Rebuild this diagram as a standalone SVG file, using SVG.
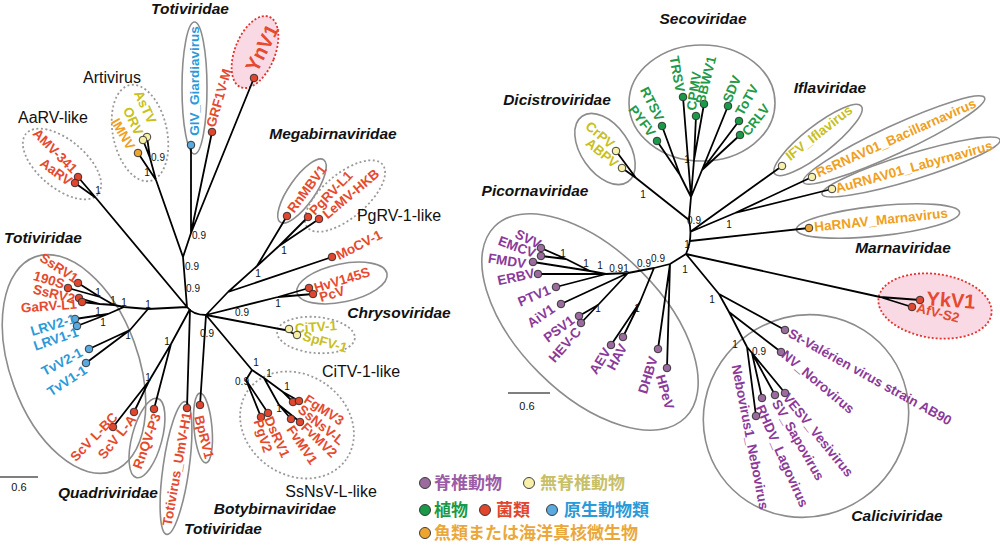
<svg xmlns="http://www.w3.org/2000/svg" width="1000" height="553" viewBox="0 0 1000 553">
<style>
.bg{fill:#fff}
.cs{fill:none;stroke:#8c8c8c;stroke-width:1.6}
.cd{fill:none;stroke:#9a9a9a;stroke-width:1.8;stroke-dasharray:2 2.5}
.pk{fill:#f9d9e4;stroke:#e5322d;stroke-width:1.8;stroke-dasharray:2 2}
.ln{fill:none;stroke:#000;stroke-width:1.8;stroke-linejoin:round}
.sb{stroke:#000;stroke-width:1.2}
circle{stroke:#2a2a2a;stroke-width:0.9}
.dotR{fill:#e0452e}.dotB{fill:#5aaae0}.dotY{fill:#f7efaa}.dotO{fill:#eea530}.dotG{fill:#1a9a48}.dotP{fill:#9a6b9c}
text{font-family:"Liberation Sans",Arial,sans-serif}
.lf{font-size:13.5px;font-weight:bold;text-anchor:middle;dominant-baseline:central}
.txR{fill:#e64a2e}.txB{fill:#2b9ad9}.txY{fill:#c8c020}.txO{fill:#f0a020}.txG{fill:#1e9a4a}.txP{fill:#8b3a99}
.fam{font-size:15.5px;font-weight:bold;font-style:italic;text-anchor:middle;dominant-baseline:central;fill:#111}
.grp{font-size:16px;text-anchor:middle;dominant-baseline:central;fill:#111}
.bsv{font-size:10px;text-anchor:middle;dominant-baseline:central;fill:#111}
.sc{font-size:11px;text-anchor:middle;fill:#111}
.lg{font-family:"Noto Sans CJK JP","Noto Sans CJK SC",sans-serif;font-size:17px;font-weight:bold}
</style>
<rect class="bg" x="0" y="0" width="1000" height="553"/>

<g id="clades">
<ellipse class="cs" cx="194.5" cy="88" rx="12.5" ry="66"/>
<ellipse class="pk" cx="255" cy="52" rx="20" ry="38" transform="rotate(22 255 52)"/>
<ellipse class="cd" cx="140" cy="133" rx="27" ry="49" transform="rotate(-12 140 133)"/>
<ellipse class="cd" cx="62" cy="164" rx="47" ry="24" transform="rotate(40 62 164)"/>
<ellipse class="cs" cx="302" cy="191" rx="13" ry="38" transform="rotate(35 302 191)"/>
<ellipse class="cd" cx="345" cy="196" rx="22" ry="49" transform="rotate(50 345 196)"/>
<ellipse class="cs" cx="342" cy="283" rx="46" ry="19" transform="rotate(-12 342 283)"/>
<ellipse class="cd" cx="316" cy="335" rx="39" ry="18" transform="rotate(5 316 335)"/>
<ellipse class="cd" cx="297" cy="425" rx="60" ry="50" transform="rotate(35 297 425)"/>
<ellipse class="cs" cx="74" cy="364" rx="64" ry="114" transform="rotate(-20 74 364)"/>
<ellipse class="cs" cx="147" cy="438" rx="15" ry="41" transform="rotate(15 147 438)"/>
<ellipse class="cs" cx="176" cy="468" rx="13" ry="67" transform="rotate(8 176 468)"/>
<ellipse class="cs" cx="203" cy="428" rx="9" ry="35" transform="rotate(-5 203 428)"/>

<ellipse class="cs" cx="702" cy="103" rx="73" ry="58"/>
<ellipse class="cs" cx="605" cy="149" rx="24" ry="40" transform="rotate(-35 605 149)"/>
<ellipse class="cs" cx="818" cy="140" rx="55" ry="14" transform="rotate(-38 818 140)"/>
<ellipse class="cs" cx="894" cy="140" rx="100" ry="14" transform="rotate(-25 894 140)"/>
<ellipse class="cs" cx="911" cy="167" rx="93" ry="13" transform="rotate(-17 911 167)"/>
<ellipse class="cs" cx="878" cy="221" rx="82" ry="15" transform="rotate(-6 878 221)"/>
<ellipse class="pk" cx="935" cy="306" rx="57" ry="32" transform="rotate(8 935 306)"/>
<ellipse class="cs" cx="590" cy="322" rx="135" ry="72" transform="rotate(45 590 322)"/>
<ellipse class="cs" cx="806" cy="416" rx="104" ry="100" transform="rotate(-35 806 416)"/>
</g>

<g id="connectors">
<path class="ln" d="M191,145 L191,233 M212,132 L191,233 M254,78 L191,233 M191,233 L183,257
M147,137 L150,158 M143,140 L150,158 M150,158 L156,180 M138,153 L156,180 M156,180 L183,257 M183,257 L187,307
M78,177 L96,198 M75,183 L96,198 M96,198 L187,307
M187,307 L148,309 M148,309 L124,307 M124,307 L114,305 M114,305 L100,297 M78,283 L100,297 M68,288 L100,297
M114,305 L100,304 M79,298 L100,304 M82,302 L100,304
M124,307 L108,314 M75,319 L108,314 M77,326 L108,314
M148,309 L130,330 M89,349 L130,330 M86,363 L130,330
M190,309 L171,344 M171,344 L154,409 M171,344 L149,381 M149,381 L113,427 M149,381 L134,412
M190,309 L187,408
M187,307 Q193,315 206,315
M206,315 L200,405
M206,315 L252,370 M252,370 L246,380 L261,417 M246,380 L268,413
M252,370 L264,378 M264,378 L283,392 L293,402 M283,392 L299,401
M264,378 L279,405 L291,419 M279,405 L300,422
M206,315 L285,330 L289,329 M285,330 L297,335
M206,315 L278,297 M278,297 L309,288 M278,297 L313,294
M206,315 L228,292 M228,292 L332,257 M228,292 L257,266 M257,266 L287,216 M257,266 L279,246 M279,246 L308,217 M279,246 L319,219"/>
<path class="ln" d="M662,126 L680,175 M657,141 L680,175 M680,175 L691,197 M683,97 L691,197
M696,116 L694,160 M704,104 L694,160 M694,160 L691,197
M728,106 L702,170 M739,121 L702,170 M740,135 L702,170 M702,170 L691,197 M691,197 L689,220
M616,151 L636,178 M622,168 L636,178 M636,178 L689,220
M689,220 Q693,238 686,254
M690,232 L782,166 M690,232 L735,213 M735,213 L812,177 M735,213 L832,189
M690,241 L809,228
M686,254 L880,297 M880,297 L920,300 M880,297 L912,307
M686,254 L719,294 M719,294 L785,330 M719,294 L729,312 M729,312 L781,352 M729,312 L747,347
M747,347 L752,353 M752,353 L785,393 M752,353 L775,395 M752,353 L762,398 M747,347 L756,416
M686,254 L670,264 M670,264 L658,349 M670,264 L667,368 M670,264 L654,268
M654,268 L640,302 M640,302 L611,345 M640,302 L623,337
M654,268 L628,273 M628,273 L561,304 M628,273 L598,305 M598,305 L579,316 M598,305 L581,323
M628,273 L606,274 M606,274 L556,287 M606,274 L538,274 M606,274 L590,271
M590,271 L533,262 M590,271 L566,259 M566,259 L541,248 M566,259 L541,256"/>
</g>

<g id="support">
<text class="bsv" x="158" y="157">0.9</text><text class="bsv" x="147" y="172">1</text>
<text class="bsv" x="98" y="190">1</text><text class="bsv" x="199" y="235">0.9</text>
<text class="bsv" x="192" y="266">0.9</text><text class="bsv" x="193" y="288">0.9</text>
<text class="bsv" x="98" y="292">1</text><text class="bsv" x="113" y="300">1</text>
<text class="bsv" x="124" y="302">1</text><text class="bsv" x="148" y="304">1</text>
<text class="bsv" x="98" y="311">1</text><text class="bsv" x="103" y="322">1</text>
<text class="bsv" x="128" y="335">1</text><text class="bsv" x="167" y="341">1</text>
<text class="bsv" x="148" y="377">1</text><text class="bsv" x="207" y="333">0.9</text>
<text class="bsv" x="242" y="312">0.9</text><text class="bsv" x="278" y="303">1</text>
<text class="bsv" x="258" y="273">1</text><text class="bsv" x="284" y="250">1</text>
<text class="bsv" x="256" y="362">1</text><text class="bsv" x="242" y="381">0.9</text>
<text class="bsv" x="269" y="373">1</text><text class="bsv" x="287" y="386">1</text>
<text class="bsv" x="279" y="408">1</text>
<text class="bsv" x="643" y="194">1</text><text class="bsv" x="687" y="159">1</text>
<text class="bsv" x="694" y="220">0.9</text><text class="bsv" x="729" y="224">1</text>
<text class="bsv" x="687" y="244">1</text><text class="bsv" x="685" y="269">1</text>
<text class="bsv" x="712" y="299">1</text><text class="bsv" x="735" y="344">1</text>
<text class="bsv" x="759" y="351">0.9</text>
<text class="bsv" x="563" y="253">1</text><text class="bsv" x="586" y="263">1</text>
<text class="bsv" x="600" y="265">1</text><text class="bsv" x="619" y="268">0.91</text>
<text class="bsv" x="644" y="263">0.9</text><text class="bsv" x="658" y="258">0.9</text>
<text class="bsv" x="598" y="308">1</text><text class="bsv" x="637" y="308">1</text>
</g>

<g id="leaves-left">
<g id="n-GIV"><circle class="dotB" cx="191" cy="145" r="3.8"/><text class="lf txB" transform="translate(194,81) rotate(-90)">GIV_Giardiavirus</text></g>
<g id="n-GRF1V"><circle class="dotR" cx="212" cy="132" r="3.8"/><text class="lf txR" transform="translate(219,98) rotate(-74)">GRF1V-M</text></g>
<g id="n-YnV1"><circle class="dotR" cx="254" cy="78" r="3.8"/><text class="lf txR" style="font-size:20px" transform="translate(262,48) rotate(-63)">YnV1</text></g>
<g id="n-AsTV"><circle class="dotY" cx="147" cy="137" r="3.8"/><text class="lf txY" transform="translate(145,107) rotate(65)">AsTV</text></g>
<g id="n-ORV"><circle class="dotY" cx="143" cy="140" r="3.8"/><text class="lf txY" transform="translate(133,121) rotate(65)">ORV</text></g>
<g id="n-IMNV"><circle class="dotO" cx="138" cy="153" r="3.8"/><text class="lf txO" transform="translate(123,134) rotate(60)">IMNV</text></g>
<g id="n-AMV"><circle class="dotR" cx="78" cy="177" r="3.8"/><text class="lf txR" transform="translate(55,151) rotate(45)">AMV-341</text></g>
<g id="n-AaRV"><circle class="dotR" cx="75" cy="183" r="3.8"/><text class="lf txR" transform="translate(56,172) rotate(36)">AaRV</text></g>
<g id="n-SsRV1"><circle class="dotR" cx="78" cy="283" r="3.8"/><text class="lf txR" transform="translate(59,268) rotate(33)">SsRV1</text></g>
<g id="n-190S"><circle class="dotR" cx="68" cy="288" r="3.8"/><text class="lf txR" transform="translate(49,280) rotate(17)">190S</text></g>
<g id="n-SsRV2"><circle class="dotR" cx="79" cy="298" r="3.8"/><text class="lf txR" transform="translate(54,294) rotate(14)">SsRV2</text></g>
<g id="n-GaRV"><circle class="dotR" cx="82" cy="302" r="3.8"/><text class="lf txR" transform="translate(49,306) rotate(-4)">GaRV-L1</text></g>
<g id="n-LRV2"><circle class="dotB" cx="75" cy="319" r="3.8"/><text class="lf txB" transform="translate(53,325) rotate(-17)">LRV2-1</text></g>
<g id="n-LRV1"><circle class="dotB" cx="77" cy="326" r="3.8"/><text class="lf txB" transform="translate(56,339) rotate(-19)">LRV1-1</text></g>
<g id="n-TvV2"><circle class="dotB" cx="89" cy="349" r="3.8"/><text class="lf txB" transform="translate(62,362) rotate(-28)">TvV2-1</text></g>
<g id="n-TvV1"><circle class="dotB" cx="86" cy="363" r="3.8"/><text class="lf txB" transform="translate(67,381) rotate(-33)">TvV1-1</text></g>
<g id="n-ScVBC"><circle class="dotR" cx="113" cy="427" r="3.8"/><text class="lf txR" transform="translate(94,437) rotate(-46)">ScV L-BC</text></g>
<g id="n-ScVA"><circle class="dotR" cx="134" cy="412" r="3.8"/><text class="lf txR" transform="translate(117,437) rotate(-51)">ScV L-A</text></g>
<g id="n-RnQV"><circle class="dotR" cx="154" cy="409" r="3.8"/><text class="lf txR" transform="translate(147,441) rotate(-70)">RnQV-P3</text></g>
<g id="n-UmV"><circle class="dotR" cx="187" cy="408" r="3.8"/><text class="lf txR" transform="translate(177,469) rotate(-80)">Totivirus_UmV-H1</text></g>
<g id="n-BpRV1"><circle class="dotR" cx="200" cy="405" r="3.8"/><text class="lf txR" transform="translate(204,437) rotate(76)">BpRV1</text></g>
<g id="n-PgV2"><circle class="dotR" cx="261" cy="417" r="3.8"/><text class="lf txR" transform="translate(263,436) rotate(72)">PgV2</text></g>
<g id="n-DsRV1"><circle class="dotR" cx="268" cy="413" r="3.8"/><text class="lf txR" transform="translate(277,437) rotate(66)">DsRV1</text></g>
<g id="n-FvMV1"><circle class="dotR" cx="291" cy="419" r="3.8"/><text class="lf txR" transform="translate(302,445) rotate(56)">FvMV1</text></g>
<g id="n-FvMV2"><circle class="dotR" cx="300" cy="422" r="3.8"/><text class="lf txR" transform="translate(319,440) rotate(44)">FvMV2</text></g>
<g id="n-SsNsV"><circle class="dotR" cx="293" cy="402" r="3.8"/><text class="lf txR" transform="translate(321,425) rotate(39)">SsNsV-L</text></g>
<g id="n-FgMV3"><circle class="dotR" cx="299" cy="401" r="3.8"/><text class="lf txR" transform="translate(324,410) rotate(33)">FgMV3</text></g>
<g id="n-CiTV"><circle class="dotY" cx="289" cy="329" r="3.8"/><text class="lf txY" transform="translate(316,327) rotate(-4)">CiTV-1</text></g>
<g id="n-SpFV"><circle class="dotY" cx="297" cy="335" r="3.8"/><text class="lf txY" transform="translate(325,342) rotate(16)">SpFV-1</text></g>
<g id="n-HvV"><circle class="dotR" cx="309" cy="288" r="3.8"/><text class="lf txR" transform="translate(342,280) rotate(-17)">HvV145S</text></g>
<g id="n-PcV"><circle class="dotR" cx="313" cy="294" r="3.8"/><text class="lf txR" transform="translate(332,294) rotate(-17)">PcV</text></g>
<g id="n-MoCV"><circle class="dotR" cx="332" cy="257" r="3.8"/><text class="lf txR" transform="translate(359,245) rotate(-27)">MoCV-1</text></g>
<g id="n-LeMV"><circle class="dotR" cx="319" cy="219" r="3.8"/><text class="lf txR" transform="translate(351,194) rotate(-40)">LeMV-HKB</text></g>
<g id="n-PgRV"><circle class="dotR" cx="308" cy="217" r="3.8"/><text class="lf txR" transform="translate(331,193) rotate(-46)">PgRV-L1</text></g>
<g id="n-RnMBV1"><circle class="dotR" cx="287" cy="216" r="3.8"/><text class="lf txR" transform="translate(307,189) rotate(-53)">RnMBV1</text></g>
</g>

<g id="leaves-right">
<g id="n-CrPV"><circle class="dotY" cx="616" cy="151" r="3.8"/><text class="lf txY" transform="translate(600,135) rotate(40)">CrPV</text></g>
<g id="n-ABPV"><circle class="dotY" cx="622" cy="168" r="3.8"/><text class="lf txY" transform="translate(602,153) rotate(40)">ABPV</text></g>
<g id="n-PYFV"><circle class="dotG" cx="657" cy="141" r="3.8"/><text class="lf txG" transform="translate(642,121) rotate(53)">PYFV</text></g>
<g id="n-RTSV"><circle class="dotG" cx="662" cy="126" r="3.8"/><text class="lf txG" transform="translate(652,104) rotate(63)">RTSV</text></g>
<g id="n-TRSV"><circle class="dotG" cx="683" cy="97" r="3.8"/><text class="lf txG" transform="translate(677,74) rotate(80)">TRSV</text></g>
<g id="n-CPMV"><circle class="dotG" cx="696" cy="116" r="3.8"/><text class="lf txG" transform="translate(694,91) rotate(-82)">CPMV</text></g>
<g id="n-BBWV1"><circle class="dotG" cx="704" cy="104" r="3.8"/><text class="lf txG" transform="translate(706,80) rotate(-76)">BBWV1</text></g>
<g id="n-SDV"><circle class="dotG" cx="728" cy="106" r="3.8"/><text class="lf txG" transform="translate(732,89) rotate(-68)">SDV</text></g>
<g id="n-ToTV"><circle class="dotG" cx="739" cy="121" r="3.8"/><text class="lf txG" transform="translate(747,100) rotate(-60)">ToTV</text></g>
<g id="n-CRLV"><circle class="dotG" cx="740" cy="135" r="3.8"/><text class="lf txG" transform="translate(756,120) rotate(-52)">CRLV</text></g>
<g id="n-IFV"><circle class="dotY" cx="782" cy="166" r="3.8"/><text class="lf txY" transform="translate(819,133) rotate(-38)">IFV_Iflavirus</text></g>
<g id="n-RsRNAV"><circle class="dotY" cx="812" cy="177" r="3.8"/><text class="lf txO" transform="translate(896,138) rotate(-24)">RsRNAV01_Bacillarnavirus</text></g>
<g id="n-AuRNAV"><circle class="dotY" cx="832" cy="189" r="3.8"/><text class="lf txO" transform="translate(914,167) rotate(-15.5)">AuRNAV01_Labyrnavirus</text></g>
<g id="n-HaRNAV"><circle class="dotO" cx="809" cy="228" r="3.8"/><text class="lf txO" transform="translate(881,220) rotate(-6)">HaRNAV_Marnavirus</text></g>
<g id="n-YkV1"><circle class="dotR" cx="920" cy="300" r="3.8"/><text class="lf txR" style="font-size:20px" transform="translate(951,300) rotate(4)">YkV1</text></g>
<g id="n-AfV"><circle class="dotR" cx="912" cy="307" r="3.8"/><text class="lf txR" transform="translate(938,313) rotate(14)">AfV-S2</text></g>
<g id="n-StVal"><circle class="dotP" cx="785" cy="330" r="3.8"/><text class="lf txP" transform="translate(870,377) rotate(29)">St-Valérien virus strain AB90</text></g>
<g id="n-NV"><circle class="dotP" cx="781" cy="352" r="3.8"/><text class="lf txP" transform="translate(818,382) rotate(40)">NV_Norovirus</text></g>
<g id="n-VESV"><circle class="dotP" cx="785" cy="393" r="3.8"/><text class="lf txP" transform="translate(818,435) rotate(51)">VESV_Vesivirus</text></g>
<g id="n-SV"><circle class="dotP" cx="775" cy="395" r="3.8"/><text class="lf txP" transform="translate(798,440) rotate(60)">SV_Sapovirus</text></g>
<g id="n-RHDV"><circle class="dotP" cx="762" cy="398" r="3.8"/><text class="lf txP" transform="translate(782,456) rotate(66)">RHDV_Lagovirus</text></g>
<g id="n-Nebo"><circle class="dotP" cx="756" cy="416" r="3.8"/><text class="lf txP" transform="translate(750,437) rotate(79)">Nebovirus1_Nebovirus</text></g>
<g id="n-SVV"><circle class="dotP" cx="541" cy="248" r="3.8"/><text class="lf txP" transform="translate(528,239) rotate(27)">SVV</text></g>
<g id="n-EMCV"><circle class="dotP" cx="541" cy="256" r="3.8"/><text class="lf txP" transform="translate(517,247) rotate(20)">EMCV</text></g>
<g id="n-FMDV"><circle class="dotP" cx="533" cy="262" r="3.8"/><text class="lf txP" transform="translate(507,261) rotate(9)">FMDV</text></g>
<g id="n-ERBV"><circle class="dotP" cx="538" cy="274" r="3.8"/><text class="lf txP" transform="translate(516,277) rotate(-12)">ERBV</text></g>
<g id="n-PTV1"><circle class="dotP" cx="556" cy="287" r="3.8"/><text class="lf txP" transform="translate(534,296) rotate(-23)">PTV1</text></g>
<g id="n-AiV1"><circle class="dotP" cx="561" cy="304" r="3.8"/><text class="lf txP" transform="translate(541,316) rotate(-35)">AiV1</text></g>
<g id="n-PSV1"><circle class="dotP" cx="579" cy="316" r="3.8"/><text class="lf txP" transform="translate(559,329) rotate(-37)">PSV1</text></g>
<g id="n-HEVC"><circle class="dotP" cx="581" cy="323" r="3.8"/><text class="lf txP" transform="translate(565,345) rotate(-49)">HEV-C</text></g>
<g id="n-AEV"><circle class="dotP" cx="611" cy="345" r="3.8"/><text class="lf txP" transform="translate(600,361) rotate(-58)">AEV</text></g>
<g id="n-HAV"><circle class="dotP" cx="623" cy="337" r="3.8"/><text class="lf txP" transform="translate(617,357) rotate(-62)">HAV</text></g>
<g id="n-DHBV"><circle class="dotP" cx="658" cy="349" r="3.8"/><text class="lf txP" transform="translate(648,375) rotate(-73)">DHBV</text></g>
<g id="n-HPeV"><circle class="dotP" cx="667" cy="368" r="3.8"/><text class="lf txP" transform="translate(665,392) rotate(74)">HPeV</text></g>
</g>

<g id="labels">
<text class="fam" x="190" y="8">Totiviridae</text>
<text class="fam" x="333" y="133">Megabirnaviridae</text>
<text class="fam" x="43" y="237">Totiviridae</text>
<text class="fam" x="399" y="312">Chrysoviridae</text>
<text class="fam" x="108" y="492">Quadriviridae</text>
<text class="fam" x="275" y="508">Botybirnaviridae</text>
<text class="fam" x="223" y="528">Totiviridae</text>
<text class="fam" x="703" y="18">Secoviridae</text>
<text class="fam" x="557" y="99">Dicistroviridae</text>
<text class="fam" x="830" y="87">Iflaviridae</text>
<text class="fam" x="535" y="190">Picornaviridae</text>
<text class="fam" x="903" y="247">Marnaviridae</text>
<text class="fam" x="897" y="515">Caliciviridae</text>
<text class="grp" x="112" y="77">Artivirus</text>
<text class="grp" x="53" y="117">AaRV-like</text>
<text class="grp" x="399" y="215">PgRV-1-like</text>
<text class="grp" x="361" y="371">CiTV-1-like</text>
<text class="grp" x="331" y="491">SsNsV-L-like</text>
</g>

<g id="scale">
<line class="sb" x1="0" y1="477" x2="38" y2="477"/><text class="sc" x="19" y="491">0.6</text>
<line class="sb" x1="508" y1="393" x2="550" y2="393"/><text class="sc" x="527" y="410">0.6</text>
</g>

<g id="legend">
<circle class="dotP" cx="425" cy="483" r="5.5"/><text class="lg" x="434" y="489" fill="#9b5ba5">脊椎動物</text>
<circle class="dotY" cx="529" cy="483" r="5.5"/><text class="lg" x="540" y="489" fill="#c8c068">無脊椎動物</text>
<circle class="dotG" cx="425" cy="510" r="5.5"/><text class="lg" x="434" y="516" fill="#1a9a48">植物</text>
<circle class="dotR" cx="485" cy="510" r="5.5"/><text class="lg" x="496" y="516" fill="#e0452e">菌類</text>
<circle class="dotB" cx="552" cy="510" r="5.5"/><text class="lg" x="564" y="516" fill="#2a9ad8">原生動物類</text>
<circle class="dotO" cx="425" cy="533" r="5.5"/><text class="lg" x="434" y="539" fill="#eba83a">魚類または海洋真核微生物</text>
</g>
</svg>
